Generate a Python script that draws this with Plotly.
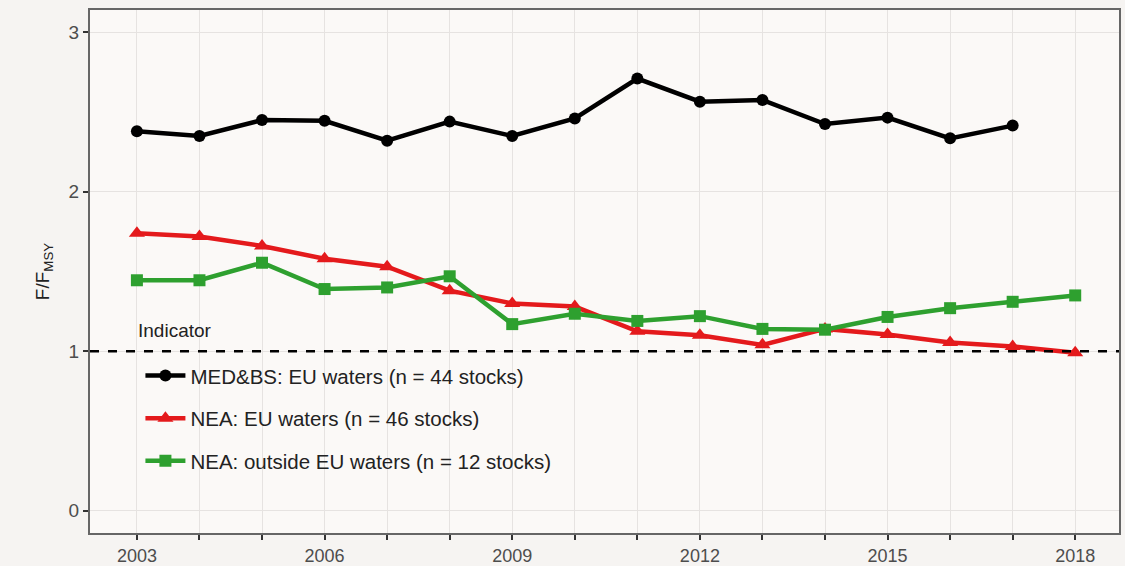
import plotly.graph_objects as go

years = list(range(2003, 2019))

med_bs_eu = [2.38, 2.35, 2.45, 2.445, 2.32, 2.44, 2.35, 2.46, 2.71, 2.565, 2.575, 2.425, 2.465, 2.335, 2.415]
nea_eu = [1.74, 1.72, 1.66, 1.58, 1.53, 1.38, 1.30, 1.28, 1.125, 1.10, 1.04, 1.14, 1.105, 1.055, 1.03, 0.99]
nea_outside = [1.445, 1.445, 1.555, 1.39, 1.40, 1.47, 1.17, 1.235, 1.19, 1.22, 1.14, 1.135, 1.215, 1.27, 1.31, 1.35]

series_names = [
    "MED&BS: EU waters (n = 44 stocks)",
    "NEA: EU waters (n = 46 stocks)",
    "NEA: outside EU waters (n = 12 stocks)",
]

y_ticks = [0, 1, 2, 3]

FONT = "Liberation Sans, Arial, sans-serif"
TICK_COLOR = "#4d4d4d"
TEXT_COLOR = "#222222"

fig = go.Figure()

styles = [
    dict(color="#000000", symbol="circle", size=12),
    dict(color="#e41a1c", symbol="triangle-up", size=14),
    dict(color="#2ea02f", symbol="square", size=12),
]
data = [med_bs_eu, nea_eu, nea_outside]

for i, (name, vals, st) in enumerate(zip(series_names, data, styles)):
    fig.add_trace(go.Scatter(
        x=years[:len(vals)], y=vals, name=name,
        mode="lines+markers",
        line=dict(color=st["color"], width=4.5),
        marker=dict(color=st["color"], symbol=st["symbol"], size=st["size"]),
        legendgroup=f"g{i}",
    ))

# reference level F = FMSY
fig.add_hline(y=1, line=dict(color="#000000", width=2.5, dash="dash"), layer="above")

# legend heading
fig.add_annotation(
    text="Indicator", xref="paper", yref="paper",
    x=0.045, y=0.388, xanchor="left", yanchor="middle",
    showarrow=False, font=dict(size=19, color=TEXT_COLOR),
)

axis_common = dict(
    ticks="outside", ticklen=5, tickwidth=2, tickcolor="#333333",
    showgrid=True, gridcolor="#e6e3e1", gridwidth=1,
    zeroline=False, automargin=False,
    showline=True, linecolor="#666666", linewidth=2, mirror=True,
)

fig.update_layout(
    width=1125, height=566,
    margin=dict(l=90, r=6, t=10, b=33),
    paper_bgcolor="#f6f4f2",
    plot_bgcolor="#fbf9f7",
    font=dict(family=FONT, size=19, color=TEXT_COLOR),
    showlegend=True,
    legend=dict(
        x=0.049, xanchor="left", y=0.339, yanchor="top",
        bgcolor="rgba(0,0,0,0)",
        traceorder="grouped",
        tracegroupgap=13,
        itemwidth=40,
        font=dict(size=20.5, color=TEXT_COLOR),
    ),
    xaxis=dict(
        range=[2002.25, 2018.7],
        tick0=2003, dtick=3,
        tickfont=dict(size=18, color=TICK_COLOR),
        minor=dict(dtick=1, ticks="outside", ticklen=5, tickwidth=2, tickcolor="#333333",
                   showgrid=True, gridcolor="#e6e3e1", gridwidth=1),
        **axis_common,
    ),
    yaxis=dict(
        range=[-0.14, 3.14],
        tickvals=y_ticks,
        tickfont=dict(size=19, color=TICK_COLOR),
        title=dict(text="F/F<sub>MSY</sub>", font=dict(size=19, color=TEXT_COLOR), standoff=14),
        **axis_common,
    ),
)

fig.write_html("out.html")
